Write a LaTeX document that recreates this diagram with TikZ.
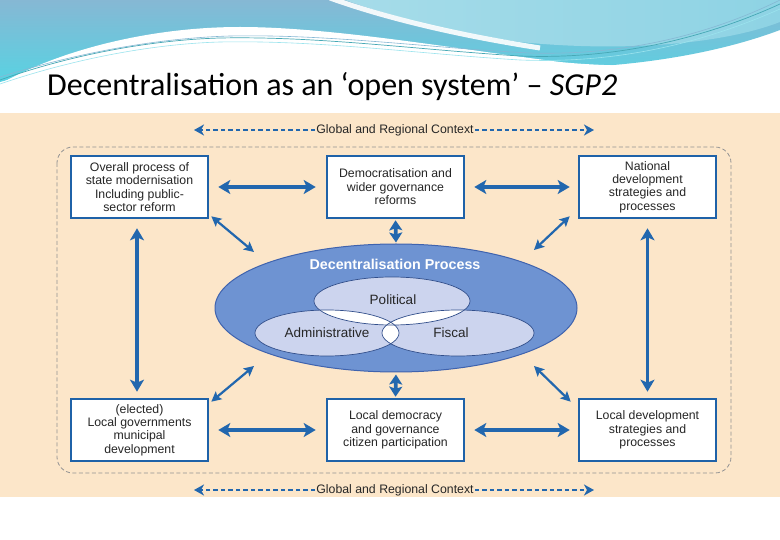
\documentclass[tikz,border=0pt]{standalone}
\usepackage{fontspec}
\setmainfont{Carlito}
\newfontfamily\arialf{Liberation Sans}
\usetikzlibrary{arrows.meta,shapes.geometric,calc}
\definecolor{beige}{HTML}{FCE6C9}
\definecolor{boxblue}{HTML}{1F62A8}
\definecolor{arrblue}{HTML}{2267AE}
\definecolor{ellblue}{HTML}{6E93D2}
\definecolor{elldark}{HTML}{3F63AE}
\definecolor{lav}{HTML}{CCD4EE}
\definecolor{txt}{HTML}{262626}
\definecolor{tealA}{HTML}{86B8D4}
\definecolor{tealB}{HTML}{58D2E2}
\definecolor{tealC}{HTML}{A6DCE9}
\definecolor{tealD}{HTML}{8ED3E4}
\begin{document}
\begin{tikzpicture}[x=1pt,y=-1pt,
  boxnode/.style={draw=boxblue,line width=2.6pt,fill=white,minimum width=137pt,minimum height=62pt,inner sep=0pt,align=center,font=\arialf\fontsize{12.3}{13.4}\selectfont,text=txt},
  bigarr/.style={draw=arrblue,line width=3.6pt,{Stealth[length=12pt,width=14pt,inset=3pt]}-{Stealth[length=12pt,width=14pt,inset=3pt]}},
  shortarr/.style={draw=arrblue,line width=3.6pt,{Stealth[length=10pt,width=13pt,inset=2pt]}-{Stealth[length=10pt,width=13pt,inset=2pt]}},
  diagarr/.style={draw=arrblue,line width=2.2pt,{Stealth[length=10pt,width=10pt,inset=2pt]}-{Stealth[length=10pt,width=10pt,inset=2pt]}},
  ctxarr/.style={draw=arrblue,line width=2pt,dash pattern=on 4.5pt off 3pt,-{Stealth[length=10pt,width=11pt,inset=3pt]}},
  ctxlabel/.style={font=\arialf\fontsize{12.3}{13}\selectfont,text=txt,inner sep=1pt},
  ellnode/.style={ellipse,inner sep=0pt},
  innerlabel/.style={font=\arialf\fontsize{13.5}{15}\selectfont,text=txt}
]
\useasboundingbox (0,0) rectangle (780,540);
% ---------- banner ----------
\fill[white] (0,0) rectangle (780,540);
\shade[top color=tealA,bottom color=tealB] (0,0) -- (780,0) -- (780,30) .. controls (700,60) and (600,70) .. (520,68) .. controls (400,62) and (200,50) .. (100,62) .. controls (60,67) and (25,75) .. (0,82) -- cycle;
\fill[white] (0,84) .. controls (60,50) and (150,27) .. (240,27) .. controls (330,27) and (450,48) .. (560,62) .. controls (600,66) and (640,66) .. (670,66) -- (670,112) -- (0,112) -- cycle;
\shade[left color=tealC,right color=tealD] (345,0) -- (780,0) -- (780,22) .. controls (720,45) and (620,52) .. (520,42) .. controls (450,32) and (390,16) .. (345,0) -- cycle;
\draw[white,line width=5pt,opacity=0.9] (330,-2) .. controls (380,16) and (450,34) .. (540,48);
\draw[tealB!80!black,line width=0.7pt] (0,80) .. controls (70,55) and (150,40) .. (220,38) .. controls (320,36) and (420,50) .. (520,56) .. controls (620,60) and (710,36) .. (780,4);
\draw[tealA,line width=0.6pt] (0,77) .. controls (80,52) and (160,38) .. (230,36) .. controls (330,34) and (430,48) .. (530,53) .. controls (630,56) and (715,32) .. (780,0);
\draw[tealB!60,line width=0.6pt] (0,84) .. controls (70,60) and (150,44) .. (220,42) .. controls (320,40) and (420,54) .. (520,60) .. controls (620,64) and (705,42) .. (780,9);
% ---------- title ----------
\node[anchor=base west,inner sep=0pt,font=\fontsize{32}{36}\selectfont] (title) at (47,96) {Decentralisation as an ‘open system’ – \textit{SGP2}};
% ---------- panel ----------
\fill[beige] (0,113) rectangle (780,497);
\draw[gray!85,line width=0.8pt,dash pattern=on 4pt off 2.5pt,rounded corners=16pt] (57,147) rectangle (731,473);
% context arrows
\node[ctxlabel] (ctxtop) at (395,130) {Global and Regional Context};
\node[ctxlabel] (ctxbot) at (395,490) {Global and Regional Context};
\coordinate (ctl) at (194,130); \coordinate (ctr) at (594,130);
\coordinate (cbl) at (194,490); \coordinate (cbr) at (594,490);
\draw[ctxarr] (ctxtop.west) -- (ctl);
\draw[ctxarr] (ctxtop.east) -- (ctr);
\draw[ctxarr] (ctxbot.west) -- (cbl);
\draw[ctxarr] (ctxbot.east) -- (cbr);
% boxes
\node[boxnode] (tl) at (139.5,187) {Overall process of\\state modernisation\\Including public-\\sector reform};
\node[boxnode] (tc) at (395.5,187) {Democratisation and\\wider governance\\reforms};
\node[boxnode] (tr) at (647.5,187) {National\\development\\strategies and\\processes};
\node[boxnode] (bl) at (139.5,430) {(elected)\\Local governments\\municipal\\development};
\node[boxnode] (bc) at (395.5,430) {Local democracy\\and governance\\citizen participation};
\node[boxnode] (br) at (647.5,430) {Local development\\strategies and\\processes};
% central ellipse
\node[ellnode,draw=elldark,line width=1pt,fill=ellblue,minimum width=362pt,minimum height=128pt] (ell) at (396,308) {};
\node[font=\arialf\bfseries\fontsize{14.3}{15}\selectfont,text=white] (dproc) at (395,264) {Decentralisation Process};
\node[ellnode,fill=lav,minimum width=156pt,minimum height=48pt] (pol) at (392,301) {};
\node[ellnode,fill=lav,minimum width=144pt,minimum height=46pt] (adm) at (327,333) {};
\node[ellnode,fill=lav,minimum width=152pt,minimum height=46pt] (fis) at (458,333) {};
\begin{scope}
  \clip (392,301) ellipse [x radius=78, y radius=24];
  \fill[white] (327,333) ellipse [x radius=72, y radius=23];
  \fill[white] (458,333) ellipse [x radius=76, y radius=23];
\end{scope}
\begin{scope}
  \clip (327,333) ellipse [x radius=72, y radius=23];
  \fill[white] (458,333) ellipse [x radius=76, y radius=23];
\end{scope}
\draw[elldark!80!black,line width=0.7pt] (392,301) ellipse [x radius=78, y radius=24];
\draw[elldark!80!black,line width=0.7pt] (327,333) ellipse [x radius=72, y radius=23];
\draw[elldark!80!black,line width=0.7pt] (458,333) ellipse [x radius=76, y radius=23];
\node[innerlabel] (lpol) at (393,300) {Political};
\node[innerlabel] (ladm) at (327,333) {Administrative};
\node[innerlabel] (lfis) at (451,333) {Fiscal};
% horizontal arrows
\draw[bigarr,shorten <=9pt,shorten >=10pt] (tl.east) -- (tc.west);
\draw[bigarr,shorten <=9pt,shorten >=8pt] (tc.east) -- (tr.west);
\draw[bigarr,shorten <=9pt,shorten >=10pt] (bl.east) -- (bc.west);
\draw[bigarr,shorten <=9pt,shorten >=8pt] (bc.east) -- (br.west);
% vertical arrows
\draw[bigarr,shorten <=9pt,shorten >=6pt] ([xshift=-2.5pt]tl.south) -- ([xshift=-2.5pt]bl.north);
\draw[bigarr,shorten <=9pt,shorten >=6pt] (tr.south) -- (br.north);
\draw[shortarr,shorten <=1pt,shorten >=1pt] (tc.south) -- (ell.north);
\draw[shortarr,shorten <=2pt,shorten >=1pt] (ell.south) -- (bc.north);
% diagonal arrows
\coordinate (dtl) at (254,252); \coordinate (dtr) at (534,250);
\coordinate (dbl) at (254,366); \coordinate (dbr) at (534,366);
\draw[diagarr] ([shift={(2pt,3pt)}]tl.south east) -- (dtl);
\draw[diagarr] ([shift={(-8pt,3pt)}]tr.south west) -- (dtr);
\draw[diagarr] ([shift={(2pt,-4pt)}]bl.north east) -- (dbl);
\draw[diagarr] ([shift={(-7pt,-4pt)}]br.north west) -- (dbr);
\end{tikzpicture}
\end{document}
